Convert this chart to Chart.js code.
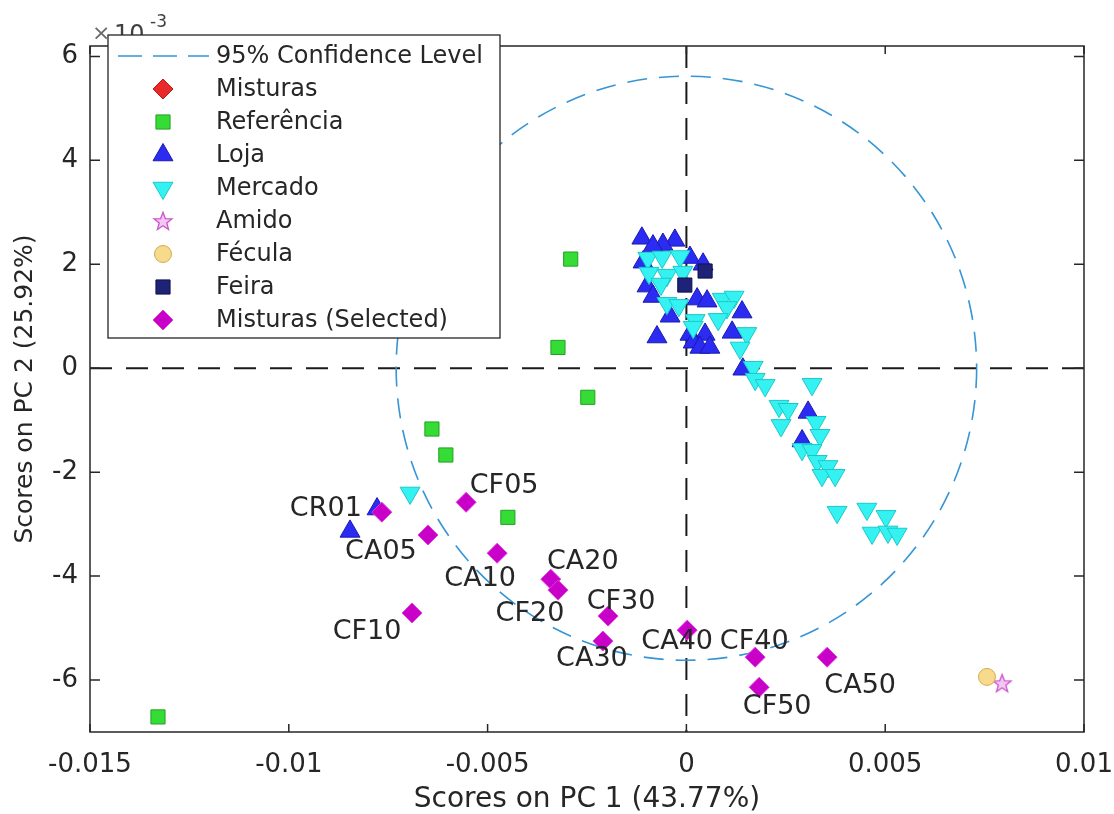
<!DOCTYPE html>
<html><head><meta charset="utf-8">
<script src="https://cdn.jsdelivr.net/npm/chart.js@4.4.1/dist/chart.umd.min.js"></script>
<style>html,body{margin:0;padding:0;background:#fff;}canvas{display:block;}</style>
</head><body>
<canvas id="c" width="1114" height="814"></canvas>
<script>
// ---------- data ----------
const xTickValues = [-0.015, -0.01, -0.005, 0, 0.005, 0.01];
const xTickLabels = ['-0.015', '-0.01', '-0.005', '0', '0.005', '0.01'];
const yTickValues = [-0.006, -0.004, -0.002, 0, 0.002, 0.004, 0.006];
const yTickLabels = ['-6', '-4', '-2', '0', '2', '4', '6'];
const yExponent = '-3';

const seriesNames = ['Misturas', 'Referência', 'Loja', 'Mercado', 'Amido', 'Fécula', 'Feira', 'Misturas (Selected)'];
const confidenceName = '95% Confidence Level';
const confidenceA = 0.0073;     // semi-axis on PC1
const confidenceB = 0.00562;    // semi-axis on PC2

const misturasX = [];
const misturasY = [];

const referenciaX = [-0.00291, -0.00323, -0.00248, -0.00640, -0.00605, -0.00449, -0.01329];
const referenciaY = [0.00210, 0.00040, -0.00056, -0.00117, -0.00167, -0.00287, -0.00671];

const lojaX = [-0.00112, -0.00029, -0.00059, -0.00084, 0.00009, 0.00042, -0.00109, -0.00099, -0.00084, 0.00027,
               0.00052, 0.00140, -0.00041, -0.00074, 0.00047, 0.00009, 0.00115, 0.00017, 0.00034, 0.00059,
               0.00142, 0.00306, 0.00291, -0.00778, -0.00846];
const lojaY = [0.00250, 0.00246, 0.00238, 0.00235, 0.00213, 0.00200, 0.00204, 0.00158, 0.00138, 0.00133,
               0.00129, 0.00108, 0.00100, 0.00060, 0.00065, 0.00065, 0.00069, 0.00050, 0.00040, 0.00040,
               -0.00002, -0.00085, -0.00140, -0.00271, -0.00314];

const mercadoX = [-0.00097, -0.00061, -0.00016, -0.00094, -0.00049, -0.00064, -0.00009, -0.00049, -0.00019, 0.00022,
                  0.00017, 0.00090, 0.00120, 0.00102, 0.00080, 0.00152, 0.00135, 0.00168, 0.00173, 0.00198,
                  0.00316, 0.00233, 0.00256, 0.00238, 0.00326, 0.00336, 0.00291, 0.00316, 0.00329, 0.00356,
                  0.00341, 0.00374, 0.00379, 0.00454, 0.00502, 0.00467, 0.00507, 0.00530, -0.00695];
const mercadoY = [0.00212, 0.00214, 0.00215, 0.00183, 0.00179, 0.00162, 0.00185, 0.00125, 0.00121, 0.00092,
                  0.00079, 0.00133, 0.00137, 0.00117, 0.00094, 0.00067, 0.00039, 0.00002, -0.00021, -0.00033,
                  -0.00031, -0.00073, -0.00079, -0.00110, -0.00104, -0.00129, -0.00156, -0.00158, -0.00179, -0.00189,
                  -0.00206, -0.00206, -0.00277, -0.00271, -0.00285, -0.00317, -0.00315, -0.00319, -0.00240];

const amidoX = [0.00794];
const amidoY = [-0.00606];

const feculaX = [0.00756];
const feculaY = [-0.00594];

const feiraX = [0.00047, -0.00004];
const feiraY = [0.00187, 0.00160];

const selectedLabels = ['CR01', 'CF05', 'CA05', 'CA10', 'CA20', 'CF20', 'CF10', 'CF30', 'CA30', 'CA40', 'CF40', 'CA50', 'CF50'];
const selectedX = [-0.00766, -0.00554, -0.00650, -0.00476, -0.00341, -0.00323, -0.00690, -0.00197, -0.00210, 0.00002, 0.00173, 0.00354, 0.00183];
const selectedY = [-0.00277, -0.00258, -0.00321, -0.00356, -0.00406, -0.00427, -0.00471, -0.00477, -0.00525, -0.00504, -0.00556, -0.00556, -0.00614];

// ---------- presentation ----------
const labelOffsets = {
  CR01: [-56, -3], CF05: [38, -16], CA05: [-47, 17], CA10: [-17, 26], CA20: [32, -17], CF20: [-28, 24],
  CF10: [-45, 19], CF30: [13, -14], CA30: [-11, 18], CA40: [-10, 12], CF40: [-1, -15], CA50: [33, 29], CF50: [18, 20]
};
const FONT = "'DejaVu Sans', 'Liberation Sans', sans-serif";
const TEXT = '#262626';

function makeStar(size) {
  const c = document.createElement('canvas');
  c.width = size; c.height = size;
  const g = c.getContext('2d');
  const cx = size / 2, cy = size / 2 + 0.8, R = size / 2 - 1.5, r = R * 0.42;
  g.beginPath();
  for (let i = 0; i < 10; i++) {
    const ang = -Math.PI / 2 + i * Math.PI / 5;
    const rad = i % 2 === 0 ? R : r;
    const px = cx + rad * Math.cos(ang), py = cy + rad * Math.sin(ang);
    if (i === 0) g.moveTo(px, py); else g.lineTo(px, py);
  }
  g.closePath();
  g.fillStyle = '#f3c6f3';
  g.fill();
  g.lineWidth = 1.3;
  g.strokeStyle = '#cc55cc';
  g.stroke();
  return c;
}
const starImg = makeStar(22);

function pts(xs, ys) { return xs.map((v, i) => ({ x: v, y: ys[i] })); }

const styles = [
  { pointStyle: 'rectRot', radius: 10, bg: '#ea2a2a', border: '#b81a1a', rotation: 0 },
  { pointStyle: 'rect', radius: 10, bg: '#35dc35', border: '#23a023', rotation: 0 },
  { pointStyle: 'triangle', radius: 11.5, bg: '#2b2bf2', border: '#1a1ab0', rotation: 0 },
  { pointStyle: 'triangle', radius: 11.5, bg: '#35f2f2', border: '#1cc8c8', rotation: 180 },
  { pointStyle: starImg, radius: 11, bg: '#f3c6f3', border: '#cc55cc', rotation: 0 },
  { pointStyle: 'circle', radius: 8.5, bg: '#f7da8c', border: '#d2ad4c', rotation: 0 },
  { pointStyle: 'rect', radius: 10, bg: '#1e2378', border: '#10124a', rotation: 0 },
  { pointStyle: 'rectRot', radius: 10, bg: '#c800c8', border: '#e23ae2', rotation: 0 }
];
const seriesData = [
  pts(misturasX, misturasY), pts(referenciaX, referenciaY), pts(lojaX, lojaY), pts(mercadoX, mercadoY),
  pts(amidoX, amidoY), pts(feculaX, feculaY), pts(feiraX, feiraY), pts(selectedX, selectedY)
];
const drawOrder = [8, 7, 6, 5, 4, 3, 2, 1];

const datasets = seriesNames.map((name, i) => ({
  label: name,
  data: seriesData[i],
  order: drawOrder[i],
  pointStyle: styles[i].pointStyle,
  pointRadius: styles[i].radius,
  pointHoverRadius: styles[i].radius,
  pointRotation: styles[i].rotation,
  backgroundColor: styles[i].bg,
  borderColor: styles[i].border,
  pointBorderWidth: 1,
  showLine: false
}));

const decor = {
  id: 'decor',
  beforeDatasetsDraw(chart) {
    const { ctx, chartArea: a, scales: { x, y } } = chart;
    ctx.save();
    ctx.beginPath(); ctx.rect(a.left, a.top, a.right - a.left, a.bottom - a.top); ctx.clip();
    const x0 = x.getPixelForValue(0), y0 = y.getPixelForValue(0);
    ctx.strokeStyle = '#1a1a1a'; ctx.lineWidth = 2; ctx.setLineDash([22, 14]);
    ctx.beginPath(); ctx.moveTo(a.left, y0); ctx.lineTo(a.right, y0); ctx.stroke();
    ctx.beginPath(); ctx.moveTo(x0, a.top); ctx.lineTo(x0, a.bottom); ctx.stroke();
    const rx = Math.abs(x.getPixelForValue(confidenceA) - x0);
    const ry = Math.abs(y.getPixelForValue(confidenceB) - y0);
    ctx.strokeStyle = '#3595d6'; ctx.lineWidth = 1.6; ctx.setLineDash([20, 12]);
    ctx.beginPath(); ctx.ellipse(x0, y0, rx, ry, 0, 0, Math.PI * 2); ctx.stroke();
    ctx.restore();
  },
  afterDatasetsDraw(chart) {
    const { ctx, scales: { x, y } } = chart;
    ctx.save();
    ctx.font = '27px ' + FONT;
    ctx.fillStyle = TEXT;
    ctx.textAlign = 'center';
    ctx.textBaseline = 'middle';
    selectedLabels.forEach((lab, i) => {
      const off = labelOffsets[lab] || [0, 0];
      ctx.fillText(lab, x.getPixelForValue(selectedX[i]) + off[0], y.getPixelForValue(selectedY[i]) + off[1]);
    });
    ctx.restore();
  },
  afterDraw(chart) {
    const { ctx, chartArea: a, scales: { x, y } } = chart;
    ctx.save();
    ctx.strokeStyle = TEXT; ctx.lineWidth = 1.5; ctx.setLineDash([]);
    ctx.strokeRect(a.left, a.top, a.right - a.left, a.bottom - a.top);
    ctx.beginPath();
    xTickValues.forEach(v => {
      const px = x.getPixelForValue(v);
      ctx.moveTo(px, a.bottom); ctx.lineTo(px, a.bottom - 8);
      ctx.moveTo(px, a.top); ctx.lineTo(px, a.top + 8);
    });
    yTickValues.forEach(v => {
      const py = y.getPixelForValue(v);
      ctx.moveTo(a.left, py); ctx.lineTo(a.left + 10, py);
      ctx.moveTo(a.right, py); ctx.lineTo(a.right - 10, py);
    });
    ctx.stroke();
    ctx.fillStyle = '#6a6a6a';
    ctx.textBaseline = 'alphabetic'; ctx.textAlign = 'left';
    ctx.font = '22px ' + FONT;
    ctx.fillText('\u00d7', a.left + 2, a.top - 6);
    ctx.fillStyle = '#404040';
    ctx.font = '24px ' + FONT;
    ctx.fillText('10', a.left + 24, a.top - 4);
    ctx.font = '17px ' + FONT;
    ctx.fillText(yExponent, a.left + 60, a.top - 19);
    const lx = 108, ly = 35, lw = 392, lh = 303;
    ctx.fillStyle = '#ffffff';
    ctx.fillRect(lx, ly, lw, lh);
    ctx.strokeStyle = TEXT; ctx.lineWidth = 1.3;
    ctx.strokeRect(lx, ly, lw, lh);
    const rowY = i => 56 + i * 33;
    const textX = 216, markX = 163;
    ctx.font = '24px ' + FONT;
    ctx.textBaseline = 'middle'; ctx.textAlign = 'left';
    ctx.strokeStyle = '#3595d6'; ctx.lineWidth = 1.6; ctx.setLineDash([24, 11]);
    ctx.beginPath(); ctx.moveTo(118, rowY(0)); ctx.lineTo(209, rowY(0)); ctx.stroke();
    ctx.setLineDash([]);
    ctx.fillStyle = TEXT;
    ctx.fillText(confidenceName, textX, rowY(0) + 1);
    seriesNames.forEach((name, i) => {
      const s = styles[i];
      const cy = rowY(i + 1);
      ctx.fillStyle = s.bg; ctx.strokeStyle = s.border; ctx.lineWidth = 1;
      Chart.helpers.drawPoint(ctx, { pointStyle: s.pointStyle, radius: s.radius, rotation: s.rotation, borderWidth: 1 }, markX, cy);
      ctx.fillStyle = TEXT;
      ctx.fillText(name, textX, cy + 1);
    });
    ctx.restore();
  }
};

new Chart(document.getElementById('c'), {
  type: 'scatter',
  data: { datasets },
  plugins: [decor],
  options: {
    responsive: false,
    animation: false,
    events: [],
    layout: { padding: { top: 46, right: 30, left: 0, bottom: 0 } },
    plugins: { legend: { display: false }, tooltip: { enabled: false } },
    scales: {
      x: {
        type: 'linear', position: 'bottom', min: -0.015, max: 0.01,
        afterBuildTicks: s => { s.ticks = xTickValues.map(v => ({ value: v })); },
        afterFit: s => { s.height = 82; s.paddingLeft = 0; s.paddingRight = 0; },
        grid: { display: false, drawTicks: false },
        border: { display: false },
        ticks: { padding: 18, autoSkip: false, maxRotation: 0, color: TEXT, font: { family: FONT, size: 26 },
                 callback: (v, i) => xTickLabels[i] },
        title: { display: true, text: 'Scores on PC 1 (43.77%)', color: TEXT,
                 font: { family: FONT, size: 28, lineHeight: 1 }, padding: { top: 0, bottom: 0 } }
      },
      y: {
        type: 'linear', position: 'left', min: -0.007, max: 0.0062,
        afterBuildTicks: s => { s.ticks = yTickValues.map(v => ({ value: v })); },
        afterFit: s => { s.width = 90; s.paddingTop = 0; s.paddingBottom = 0; },
        grid: { display: false, drawTicks: false },
        border: { display: false },
        ticks: { padding: 12, autoSkip: false, color: TEXT, font: { family: FONT, size: 26 },
                 callback: (v, i) => yTickLabels[i] },
        title: { display: true, text: 'Scores on PC 2 (25.92%)', color: TEXT,
                 font: { family: FONT, size: 25, lineHeight: 1 }, padding: { top: 13, bottom: 0 } }
      }
    }
  }
});
</script>
</body></html>
